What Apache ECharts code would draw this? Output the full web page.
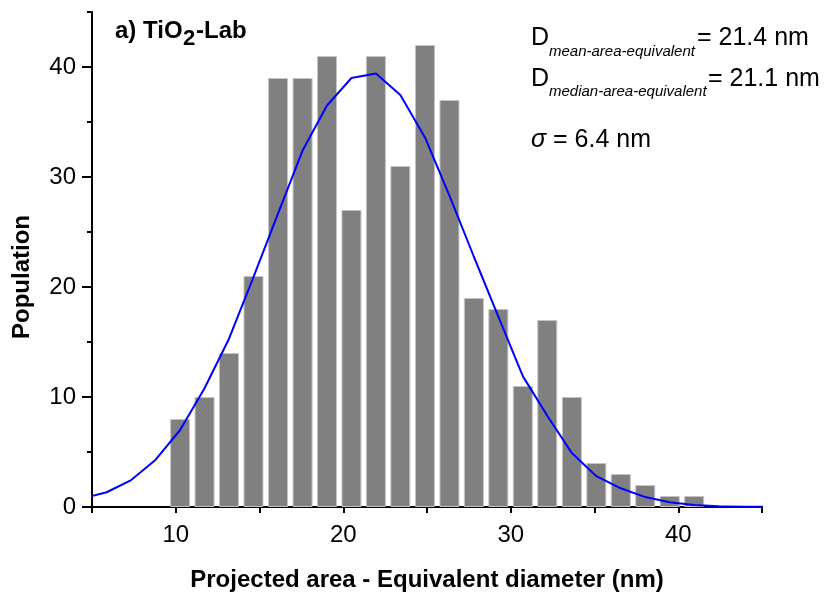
<!DOCTYPE html>
<html>
<head>
<meta charset="utf-8"/>
<style>
    html,body { margin:0; padding:0; background:#fff; }
    #chart { width:825px; height:597px; }
</style>
</head>
<body>
<div id="chart"></div>

<script src="https://cdn.jsdelivr.net/npm/echarts@6/dist/echarts.min.js"></script>
<script type="text/javascript">

// histogram: bin centres (nm) and counts
var binCenters = [10.26, 11.72, 13.18, 14.64, 16.11, 17.57, 19.03, 20.49, 21.95, 23.41, 24.88,
                  26.34, 27.8, 29.26, 30.72, 32.18, 33.65, 35.11, 36.57, 38.03, 39.49, 40.95];
var counts = [8, 10, 14, 21, 39, 39, 41, 27, 41, 31, 42, 37, 19, 18, 11, 17, 10, 4, 3, 2, 1, 1];

// fitted distribution curve
var fitX = [4.41, 5.875, 7.34, 8.8, 10.26, 11.72, 13.18, 14.64, 16.11, 17.57, 19.03, 20.49, 21.95, 23.41,
            24.88, 26.34, 27.8, 29.26, 30.72, 32.18, 33.65, 35.11, 36.57, 38.03, 39.49, 40.95, 42.41, 43.87, 45.34];
var fitY = [0.76, 1.34, 2.45, 4.3, 7.0, 10.8, 15.3, 20.9, 26.7, 32.4, 36.5, 39.0, 39.4, 37.45,
            33.6, 28.3, 22.75, 17.3, 11.9, 8.3, 4.9, 2.8, 1.7, 0.9, 0.43, 0.18, 0.06, 0.02, 0.01];

// tick labels
var xLabels = [10, 20, 30, 40];
var yLabels = [0, 10, 20, 30, 40];
var yMinor = [5, 15, 25, 35, 45];

var FONT = '"Liberation Sans", Arial, Helvetica, sans-serif';

var barData = binCenters.map(function (x, i) { return [x, counts[i]]; });
var fitData = fitX.map(function (x, i) { return [x, fitY[i]]; });

var chart = echarts.init(document.getElementById('chart'), null, { renderer: 'canvas' });

var option = {
    animation: false,
    backgroundColor: '#fff',
    grid: { left: 92, right: 63, top: 12, bottom: 90, containLabel: false },
    xAxis: {
        type: 'value',
        min: 5, max: 45, interval: 5,
        name: 'Projected area - Equivalent diameter (nm)',
        nameLocation: 'middle',
        nameGap: 61,
        nameTextStyle: { fontFamily: FONT, fontSize: 24, fontWeight: 'bold', color: '#000' },
        axisLine: { onZero: false, lineStyle: { color: '#000', width: 2 } },
        axisTick: { length: 6, lineStyle: { color: '#000', width: 2 } },
        axisLabel: { customValues: xLabels, fontFamily: FONT, fontSize: 24, color: '#000', margin: 16 },
        splitLine: { show: false }
    },
    yAxis: [{
        type: 'value',
        min: 0, max: 45, interval: 5,
        axisLine: { show: true, onZero: false, lineStyle: { color: '#000', width: 2 } },
        axisTick: { customValues: yLabels, length: 10, lineStyle: { color: '#000', width: 2 } },
        axisLabel: { customValues: yLabels, fontFamily: FONT, fontSize: 24, color: '#000', margin: 16 },
        splitLine: { show: false }
    }, {
        type: 'value',
        position: 'left',
        min: 0, max: 45, interval: 5,
        axisLine: { show: false },
        axisTick: { show: true, customValues: yMinor, length: 5, lineStyle: { color: '#000', width: 2 } },
        axisLabel: { show: false },
        splitLine: { show: false }
    }],
    series: [{
        type: 'bar',
        data: barData,
        barWidth: 20,
        silent: true,
        itemStyle: { color: '#808080', borderColor: '#c4c4c4', borderWidth: 1 }
    }, {
        type: 'line',
        data: fitData,
        symbol: 'none',
        clip: true,
        silent: true,
        z: 5,
        lineStyle: { color: '#0000ff', width: 2 }
    }],
    graphic: [
        // y axis title
        { type: 'text', x: 22, y: 277, rotation: Math.PI / 2,
          style: { text: 'Population', font: 'bold 24px ' + FONT, fill: '#000', align: 'center', verticalAlign: 'middle' } },
        // panel label
        { type: 'text', x: 115, y: 31,
          style: { text: 'a) TiO', font: 'bold 24px ' + FONT, fill: '#000', align: 'left', verticalAlign: 'middle' } },
        { type: 'text', x: 183, y: 39,
          style: { text: '2', font: 'bold 22px ' + FONT, fill: '#000', align: 'left', verticalAlign: 'middle' } },
        { type: 'text', x: 196, y: 31,
          style: { text: '-Lab', font: 'bold 24px ' + FONT, fill: '#000', align: 'left', verticalAlign: 'middle' } },
        // statistics
        { type: 'text', x: 531, y: 38,
          style: { text: 'D', font: '25px ' + FONT, fill: '#000', align: 'left', verticalAlign: 'middle' } },
        { type: 'text', x: 549, y: 51.5,
          style: { text: 'mean-area-equivalent', font: 'italic 15px ' + FONT, fill: '#000', align: 'left', verticalAlign: 'middle' } },
        { type: 'text', x: 697, y: 38,
          style: { text: '= 21.4 nm', font: '25px ' + FONT, fill: '#000', align: 'left', verticalAlign: 'middle' } },
        { type: 'text', x: 531, y: 79.6,
          style: { text: 'D', font: '25px ' + FONT, fill: '#000', align: 'left', verticalAlign: 'middle' } },
        { type: 'text', x: 549, y: 91.5,
          style: { text: 'median-area-equivalent', font: 'italic 15px ' + FONT, fill: '#000', align: 'left', verticalAlign: 'middle' } },
        { type: 'text', x: 708, y: 79.6,
          style: { text: '= 21.1 nm', font: '25px ' + FONT, fill: '#000', align: 'left', verticalAlign: 'middle' } },
        { type: 'text', x: 531, y: 140,
          style: { text: 'σ', font: 'italic 25px ' + FONT, fill: '#000', align: 'left', verticalAlign: 'middle' } },
        { type: 'text', x: 553, y: 140,
          style: { text: '= 6.4 nm', font: '25px ' + FONT, fill: '#000', align: 'left', verticalAlign: 'middle' } }
    ]
};

chart.setOption(option);
</script>
</body>
</html>
